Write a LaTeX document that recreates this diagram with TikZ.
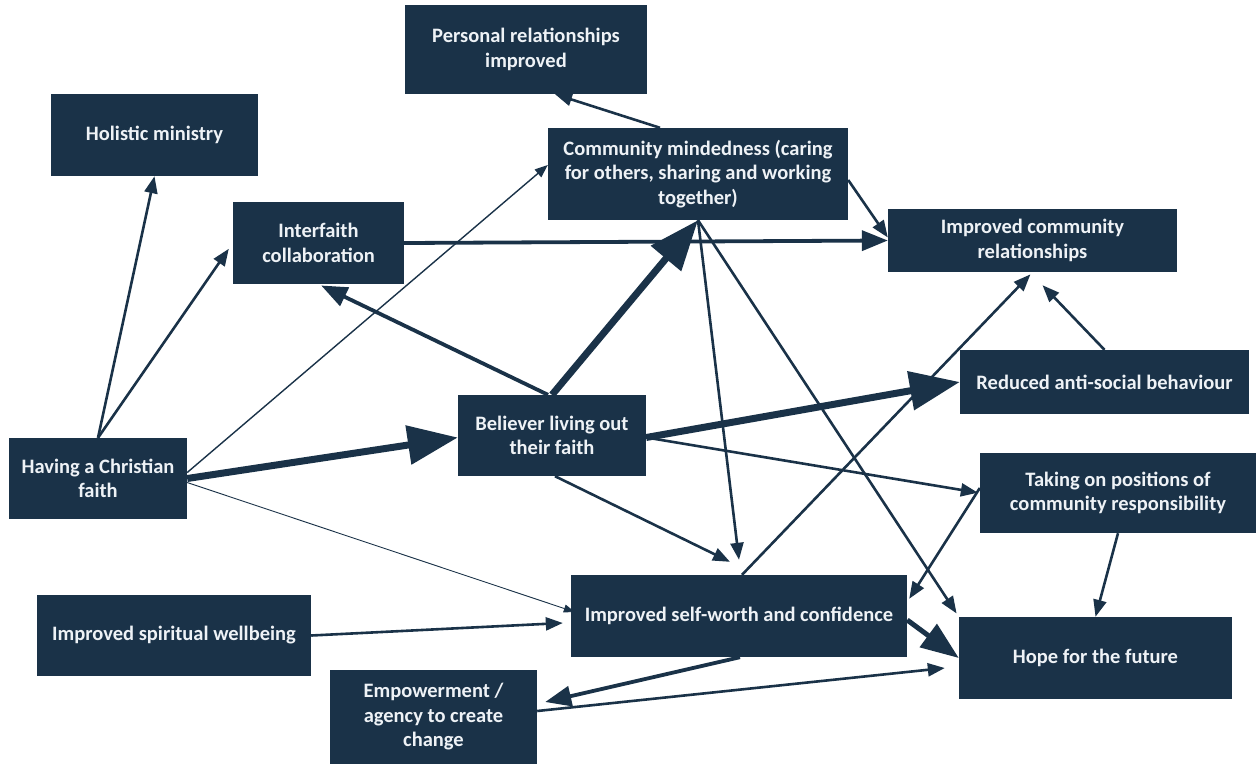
\documentclass[tikz,border=0pt]{standalone}
\usepackage{fontspec}
\setmainfont{Carlito}
\usetikzlibrary{arrows.meta,calc,positioning}
\definecolor{navy}{RGB}{26,50,72}
\definecolor{paper}{RGB}{238,242,246}

\begin{document}
\begin{tikzpicture}[x=1pt,y=-1pt,
  box/.style={fill=navy,text=paper,inner sep=0pt,align=center,
    font=\bfseries\fontsize{20.5}{24.5}\selectfont},
  hair/.style={navy,line width=0.9pt,-{Triangle[length=11pt,width=8pt]}},
  thin/.style={navy,line width=1.4pt,-{Triangle[length=13pt,width=10pt]}},
  norm/.style={navy,line width=2.6pt,-{Triangle[length=17pt,width=13pt]}},
  bold/.style={navy,line width=3.8pt,-{Triangle[length=26pt,width=20pt]}},
  heavy/.style={navy,line width=5pt,-{Triangle[length=38pt,width=28pt]}},
  huge/.style={navy,line width=7pt,-{Triangle[length=50pt,width=38pt]}}]
  \useasboundingbox (0,0) rectangle (1260,764);
  % outcome boxes
  \node[box,minimum width=242,minimum height=89] (pr) at (526,49.5) {Personal relationships\\improved};
  \node[box,minimum width=207,minimum height=82] (hm) at (154.5,135) {Holistic ministry};
  \node[box,minimum width=300,minimum height=92] (cm) at (698,174) {Community mindedness (caring\\for others, sharing and working\\together)};
  \node[box,minimum width=171,minimum height=82] (ic) at (318.5,243) {Interfaith\\collaboration};
  \node[box,minimum width=289,minimum height=63] (icr) at (1032.5,240.5) {Improved community\\relationships};
  \node[box,minimum width=289,minimum height=64] (ras) at (1104.5,382) {Reduced anti-social behaviour};
  \node[box,minimum width=188,minimum height=81] (bl) at (552,435.5) {Believer living out\\their faith};
  \node[box,minimum width=178,minimum height=81] (cf) at (98,478.5) {Having a Christian\\faith};
  \node[box,minimum width=276,minimum height=80] (tp) at (1118,493) {Taking on positions of\\community responsibility};
  \node[box,minimum width=274,minimum height=81] (sw) at (174,635.5) {Improved spiritual wellbeing};
  \node[box,minimum width=336,minimum height=82] (sc) at (739,616) {Improved self-worth and confidence};
  \node[box,minimum width=273,minimum height=82] (hf) at (1095.5,658) {Hope for the future};
  \node[box,minimum width=207,minimum height=94] (em) at (433.5,717) {Empowerment /\\agency to create\\change};
  % links out of the faith box
  \draw[norm] (cf.north) -- (hm.south);
  \draw[norm,shorten >=7pt] (cf.north) -- (ic.west);
  \draw[thin] ([yshift=6pt]cf.east) -- ([yshift=9pt]cm.west);
  \draw[huge] (cf.east) -- ([yshift=-2pt]bl.west);
  \draw[hair] ([yshift=-4pt]cf.east) -- ([xshift=4pt,yshift=4pt]sc.west);
  % links out of the believer box
  \draw[bold,shorten >=3pt] ([xshift=-4pt]bl.north) -- (ic.south);
  \draw[huge] (bl.north) -- (cm.south);
  \draw[huge] ([yshift=-2pt]bl.east) -- (ras.west);
  \draw[norm,shorten >=2pt] ([yshift=-2pt]bl.east) -- (tp.west);
  \draw[norm] ([xshift=3pt]bl.south) -- ([xshift=-9pt,yshift=13pt]sc.north);
  % links out of community mindedness
  \draw[norm] ([xshift=-38pt]cm.north) -- ([xshift=29pt]pr.south);
  \draw[norm] ([yshift=-6pt]cm.east) -- ([yshift=3pt]icr.west);
  \draw[norm] (cm.south) -- ([yshift=15pt]sc.north);
  \draw[norm,shorten >=4pt] (cm.south) -- (hf.north west);
  \draw[bold] (ic.east) -- (icr.west);
  % remaining links
  \draw[norm,shorten >=3pt] ([xshift=3pt]sc.north) -- (icr.south);
  \draw[norm] (ras.north) -- ([xshift=10pt,yshift=-13pt]icr.south);
  \draw[norm] ([yshift=5pt]tp.west) -- ([xshift=2pt,yshift=-24pt]sc.north east);
  \draw[norm] (tp.south) -- (hf.north);
  \draw[heavy] ([yshift=-4pt]sc.east) -- (hf.west);
  \draw[norm] (sw.east) -- ([xshift=-8pt,yshift=-7pt]sc.west);
  \draw[bold] ([xshift=1pt]sc.south) -- ([xshift=8pt,yshift=15pt]em.east);
  \draw[norm] ([yshift=6pt]em.east) -- ([xshift=-14pt,yshift=-10pt]hf.west);
\end{tikzpicture}
\end{document}
